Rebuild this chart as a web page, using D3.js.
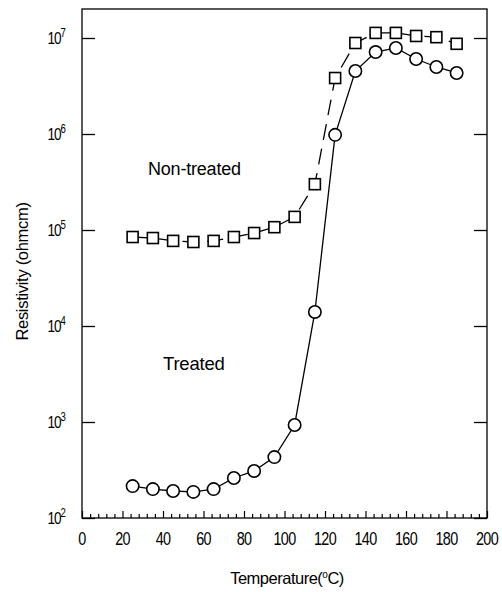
<!DOCTYPE html>
<html><head><meta charset="utf-8">
<script src="https://cdn.jsdelivr.net/npm/d3@7"></script>
<style>body{margin:0;background:#fff}svg{display:block}</style>
</head><body>
<script>
const temperatures = [25,35,45,55,65,75,85,95,105,115,125,135,145,155,165,175,185];
const nonTreated = [8.45e4,8.25e4,7.7e4,7.5e4,7.7e4,8.45e4,9.3e4,1.07e5,1.37e5,3.0e5,3.83e6,8.87e6,1.13e7,1.13e7,1.05e7,1.02e7,8.7e6];
const treated = [215,200,191,187,200,261,309,431,931,1.4e4,9.8e5,4.53e6,7.14e6,7.87e6,6.04e6,4.99e6,4.32e6];
const xTicks = [0,20,40,60,80,100,120,140,160,180,200];
const yExponents = [2,3,4,5,6,7];

const W=502,H=592;
const L=82,R=487,T=9,B=518;
const svg=d3.select("body").append("svg").attr("width",W).attr("height",H);
const x=d3.scaleLinear().domain([0,200]).range([L,R]);
const y=d3.scaleLog().domain([100,Math.pow(10,7+ (38-T)/96)]).range([B,T]);
const font="Liberation Sans, Arial, sans-serif";

// frame
svg.append("rect").attr("x",L).attr("y",T).attr("width",R-L).attr("height",B-T)
  .attr("fill","none").attr("stroke","#000").attr("stroke-width",1.3);

// bottom axis
const xAxis=d3.axisBottom(x).tickValues(d3.range(0,201,4)).tickSize(0).tickFormat("");
const gx=svg.append("g").attr("transform",`translate(0,${B})`).call(xAxis);
gx.select(".domain").remove();
gx.selectAll(".tick line").attr("y2",d=>d%20===0?-7:-4).attr("stroke","#000").attr("stroke-width",1.2);
svg.append("g").selectAll("text").data(xTicks).join("text")
  .attr("transform",d=>`translate(${x(d)},${B+27}) scale(0.8,1)`).attr("text-anchor","middle")
  .attr("font-family",font).attr("font-size",18).attr("letter-spacing",-0.8).text(d=>d);

// left & right ticks
const yt=yExponents.map(e=>Math.pow(10,e));
const gl=svg.append("g").attr("transform",`translate(${L},0)`).call(d3.axisLeft(y).tickValues(yt).tickSize(-13).tickFormat(""));
gl.select(".domain").remove();
gl.selectAll(".tick line").attr("stroke","#000").attr("stroke-width",1.3);
const gr=svg.append("g").attr("transform",`translate(${R},0)`).call(d3.axisRight(y).tickValues(yt).tickSize(-13).tickFormat(""));
gr.select(".domain").remove();
gr.selectAll(".tick line").attr("stroke","#000").attr("stroke-width",1.3);

// y labels
const yl=svg.append("g").selectAll("text").data(yExponents).join("text")
  .attr("transform",e=>`translate(${L-17},${y(Math.pow(10,e))+6}) scale(0.8,1)`).attr("text-anchor","end")
  .attr("font-family",font).attr("font-size",17).attr("letter-spacing",-1.2);
yl.append("tspan").text("10");
yl.append("tspan").attr("dy",-7).attr("font-size",12).text(e=>e);

// lines
const ptsN=temperatures.map((t,i)=>[t,nonTreated[i]]);
const ptsT=temperatures.map((t,i)=>[t,treated[i]]);
const line=d3.line().x(d=>x(d[0])).y(d=>y(d[1]));
svg.append("path").datum(ptsN).attr("d",line).attr("fill","none").attr("stroke","#000")
  .attr("stroke-width",1.3).attr("stroke-dasharray","16,9");
svg.append("path").datum(ptsT).attr("d",line).attr("fill","none").attr("stroke","#000").attr("stroke-width",1.3);

// markers
svg.append("g").selectAll("rect").data(ptsN).join("rect")
  .attr("x",d=>x(d[0])-5.5).attr("y",d=>y(d[1])-5.5).attr("width",11).attr("height",11)
  .attr("fill","#fff").attr("stroke","#000").attr("stroke-width",1.6);
svg.append("g").selectAll("circle").data(ptsT).join("circle")
  .attr("cx",d=>x(d[0])).attr("cy",d=>y(d[1])).attr("r",6.2)
  .attr("fill","#fff").attr("stroke","#000").attr("stroke-width",1.6);

// annotations
svg.append("text").attr("x",148).attr("y",175).attr("font-family",font).attr("font-size",18)
  .attr("letter-spacing",-0.2).text("Non-treated");
svg.append("text").attr("x",163).attr("y",370).attr("font-family",font).attr("font-size",18.5)
  .attr("letter-spacing",-0.2).text("Treated");

// titles
svg.append("text").attr("transform",`translate(28,${(T+B)/2+8}) rotate(-90)`).attr("text-anchor","middle")
  .attr("font-family",font).attr("font-size",16.5).attr("letter-spacing",-0.3).text("Resistivity (ohmcm)");
const xt=svg.append("text").attr("x",287).attr("y",584).attr("text-anchor","middle")
  .attr("font-family",font).attr("font-size",16.5).attr("letter-spacing",-0.5);
xt.append("tspan").text("Temperature(");
xt.append("tspan").attr("dy",-6).attr("font-size",10).text("o");
xt.append("tspan").attr("dy",6).text("C)");
</script>
</body></html>
